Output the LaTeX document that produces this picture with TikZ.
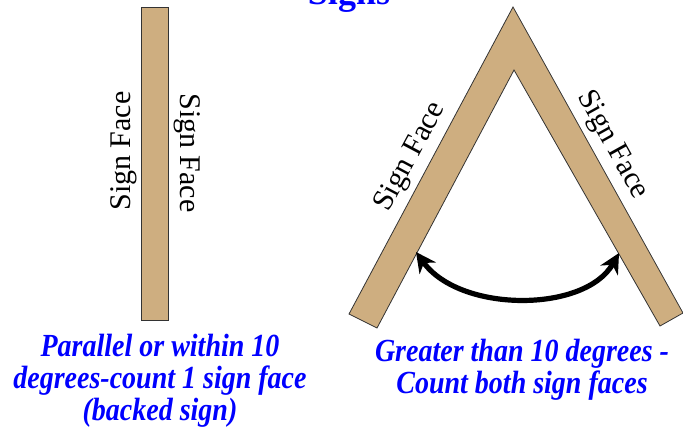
\documentclass[tikz,border=0pt]{standalone}
\usepackage{fontspec}
\setmainfont{Liberation Serif}
\usetikzlibrary{arrows.meta}
\definecolor{boardtan}{RGB}{206,174,128}
\definecolor{captionblue}{RGB}{0,0,255}
\tikzset{
    board/.style={
        draw=black!80, fill=boardtan,
        line width=0.4pt, line join=miter
    },
    facelabel/.style={
        font=\fontsize{15}{18}\selectfont, inner sep=0pt
    },
    caption/.style={
        text=captionblue, align=center, inner sep=0pt,
        yscale=1.15, transform shape,
        font=\fontsize{14}{14}\selectfont\bfseries\itshape
    },
    swing/.style={{Stealth[length=10pt,width=10pt]}-{Stealth[length=10pt,width=10pt]}, line width=2.6pt}
}
\begin{document}
\begin{tikzpicture}[x=0.5pt, y=-0.5pt]
    \useasboundingbox (0,0) rectangle (683,433);
    % title, mostly above the page edge
    \node[text=captionblue, font=\fontsize{18}{20}\selectfont\bfseries, anchor=base] (title) at (349,5) {Signs};

    % backed sign
    \draw[board] (141,7) rectangle (168,320);
    \node[facelabel, rotate=90] (faceA) at (124,151) {Sign Face};
    \node[facelabel, rotate=-90] (faceB) at (187,153) {Sign Face};

    % v-shaped sign
    \draw[board] (349,314) -- (513,7) -- (683,313) -- (660,326) -- (514,70) -- (377,328) -- cycle;
    \node[facelabel, rotate=62] (faceC) at (411,157) {Sign Face};
    \node[facelabel, rotate=-61] (faceD) at (612,145) {Sign Face};

    \coordinate (legL) at (416,252);
    \coordinate (legR) at (619,253);
    \draw[swing] (legL) .. controls (460,313) and (585,313) .. (legR);

    \node[caption] (capA) at (160,381) {Parallel or within 10\\degrees-count 1 sign face\\(backed sign)};
    \node[caption] (capB) at (522,370) {Greater than 10 degrees -\\Count both sign faces};
\end{tikzpicture}
\end{document}
